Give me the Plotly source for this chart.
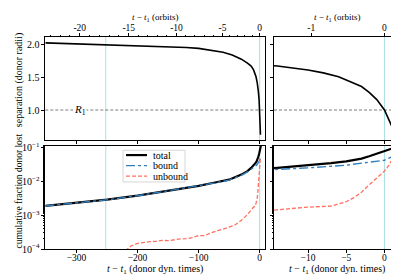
import plotly.graph_objects as go

# ---------------- data ----------------
sep_t = [-351, -300, -250, -200, -150, -120, -100, -80, -60, -45, -30, -20, -14, -10, -8, -6, -4, -3, -2, -1, 0, 0.5, 1.0, 1.3]
sep = [2.03, 2.015, 2.0, 1.99, 1.975, 1.96, 1.945, 1.92, 1.885, 1.845, 1.78, 1.72, 1.675, 1.615, 1.57, 1.51, 1.415, 1.36, 1.27, 1.16, 1.0, 0.88, 0.74, 0.62]

tot_t = [-351, -300, -250, -200, -150, -100, -75, -50, -30, -20, -14, -10, -7, -5, -3, -2, -1, 0, 1, 2, 2.3]
tot_v = [1.9e-3, 2.35e-3, 2.9e-3, 3.8e-3, 5.25e-3, 7.4e-3, 9.1e-3, 1.12e-2, 1.58e-2, 2.0e-2, 2.5e-2, 2.95e-2, 3.45e-2, 3.9e-2, 4.7e-2, 5.5e-2, 6.45e-2, 7.75e-2, 9.3e-2, 0.112, 0.12]

bnd_t = [-351, -300, -250, -200, -150, -100, -75, -50, -30, -20, -14, -10, -5, -2, 0, 1.2]
bnd_v = [1.88e-3, 2.32e-3, 2.86e-3, 3.75e-3, 5.2e-3, 7.3e-3, 8.9e-3, 1.09e-2, 1.5e-2, 1.9e-2, 2.3e-2, 2.5e-2, 3.0e-2, 3.6e-2, 4.2e-2, 5.6e-2]

unb_t = [-220, -210, -200, -190, -180, -170, -160, -150, -140, -130, -120, -110, -100, -90, -80, -70, -60, -50, -40, -30, -20, -14, -10, -7, -5, -4, -3, -2, -1, 0, 0.5, 1.2]
unb_v = [8.9e-5, 1.26e-4, 1.48e-4, 1.58e-4, 1.66e-4, 1.7e-4, 1.82e-4, 1.78e-4, 1.9e-4, 2.0e-4, 2.04e-4, 2.19e-4, 2.51e-4, 2.51e-4, 3.02e-4, 3.39e-4, 3.8e-4, 4.47e-4, 5.25e-4, 7.08e-4, 1.05e-3, 1.45e-3, 1.74e-3, 1.86e-3, 2.51e-3, 3.3e-3, 4.8e-3, 7.9e-3, 1.26e-2, 2.0e-2, 2.8e-2, 5.2e-2]

series_names = ["total", "bound", "unbound"]

# orbit (top axis) ticks, positions expressed in donor dynamical times
orb_left_pos = [-294.6, -214.4, -136.2, -61.0, 0.0]
orb_left_lab = ["-20", "-15", "-10", "-5", "0"]
orb_right_pos = [-9.57, 0.0]
orb_right_lab = ["-1", "0"]

bot_left_ticks = [-300, -200, -100, 0]
bot_right_ticks = [-10, -5, 0]
sep_ticks = [1.0, 1.5, 2.0]
sep_labels = ["1.0", "1.5", "2.0"]
log_ticks = [1e-4, 1e-3, 1e-2, 1e-1]
log_labels = ["10<sup>−4</sup>", "10<sup>−3</sup>", "10<sup>−2</sup>", "10<sup>−1</sup>"]
vlines_left = [-252, 0]
vlines_right = [0]
R1 = 1.0


def minor_orbits(pos):
    # styling only: tick marks at whole orbits between the labelled ones
    out = []
    for a, b in zip(pos[:-1], pos[1:]):
        for k in range(1, 5):
            out.append(a + (b - a) * k / 5)
    step = (pos[1] - pos[0]) / 5
    x = pos[0] - step
    while x > -351:
        out.append(x)
        x -= step
    return out


FONT = "Liberation Serif, Times New Roman, DejaVu Serif, serif"
BLUE = "#2f7fc1"
RED = "#ff7060"
CYAN = "#a9dfe3"
W, H = 399, 275

styles = {
    "total": dict(color="black", width=2.2),
    "bound": dict(color=BLUE, width=1.4, dash="dashdot"),
    "unbound": dict(color=RED, width=1.3, dash="4px,2px"),
}

fig = go.Figure()

for xa, ya in [("x", "y"), ("x2", "y2")]:
    for nm, tt, vv in zip(series_names, [tot_t, bnd_t, unb_t], [tot_v, bnd_v, unb_v]):
        fig.add_trace(go.Scatter(x=tt, y=vv, xaxis=xa, yaxis=ya, mode="lines", name=nm,
                                 line=styles[nm], showlegend=False))

for xa, ya in [("x3", "y3"), ("x4", "y4")]:
    fig.add_trace(go.Scatter(x=sep_t, y=sep, xaxis=xa, yaxis=ya, mode="lines",
                             line=dict(color="black", width=1.6), showlegend=False))
# invisible traces so the top (orbit) axes are drawn
fig.add_trace(go.Scatter(x=[orb_left_pos[0]], y=[sep[0]], xaxis="x5", yaxis="y3", mode="markers",
                         marker=dict(opacity=0), showlegend=False, hoverinfo="skip"))
fig.add_trace(go.Scatter(x=[orb_right_pos[0]], y=[sep[0]], xaxis="x6", yaxis="y4", mode="markers",
                         marker=dict(opacity=0), showlegend=False, hoverinfo="skip"))

shapes = []
for v in vlines_left:
    for yr in ["y domain", "y3 domain"]:
        shapes.append(dict(type="line", xref="x", yref=yr, x0=v, x1=v, y0=0, y1=1,
                           line=dict(color=CYAN, width=1), layer="below"))
for v in vlines_right:
    for yr in ["y2 domain", "y4 domain"]:
        shapes.append(dict(type="line", xref="x2", yref=yr, x0=v, x1=v, y0=0, y1=1,
                           line=dict(color=CYAN, width=1), layer="below"))
for xr, yr in [("x3 domain", "y3"), ("x4 domain", "y4")]:
    shapes.append(dict(type="line", xref=xr, yref=yr, x0=0, x1=1, y0=R1, y1=R1,
                       line=dict(color="#444", width=0.7, dash="3px,2px"), layer="below"))

# legend box (matplotlib-like, compact)
LX0, LX1, LY0, LY1 = 115, 177, 143, 176
shapes.append(dict(type="rect", xref="paper", yref="paper", x0=LX0 / W, x1=LX1 / W,
                   y0=1 - LY1 / H, y1=1 - LY0 / H, line=dict(color="#cccccc", width=0.8),
                   fillcolor="rgba(255,255,255,0.85)", layer="above"))
annotations = []
for i, nm in enumerate(series_names):
    yy = 1 - (148 + 11 * i) / H
    shapes.append(dict(type="line", xref="paper", yref="paper", x0=118 / W, x1=139 / W,
                       y0=yy, y1=yy, line=styles[nm], layer="above"))
    annotations.append(dict(x=143 / W, y=yy, xref="paper", yref="paper", text=nm, showarrow=False,
                            xanchor="left", yanchor="middle", font=dict(family=FONT, size=10, color="black")))

XL = [37.3 / W, 257.3 / W]
XR = [266 / W, 392.5 / W]
YB = [1 - 246 / H, 1 - 138.3 / H]
YT = [1 - 132.3 / H, 1 - 25 / H]

title_x = "<i>t</i> − <i>t</i><sub>1</sub> (donor dyn. times)"
title_o = "<i>t</i> − <i>t</i><sub>1</sub> (orbits)"
for xc in [(XL[0] + XL[1]) / 2, (XR[0] + XR[1]) / 2]:
    annotations.append(dict(x=xc, y=1 - 267 / H, xref="paper", yref="paper", text=title_x,
                            showarrow=False, xanchor="center", yanchor="middle",
                            font=dict(family=FONT, size=10, color="black")))
    annotations.append(dict(x=xc, y=1 - 5 / H, xref="paper", yref="paper", text=title_o,
                            showarrow=False, xanchor="center", yanchor="middle",
                            font=dict(family=FONT, size=9, color="black")))
annotations.append(dict(x=11 / W, y=1 - 70 / H, xref="paper", yref="paper",
                        text="separation (donor radii)", textangle=-90, showarrow=False,
                        xanchor="center", yanchor="middle", font=dict(family=FONT, size=10, color="black")))
annotations.append(dict(x=11 / W, y=1 - 186 / H, xref="paper", yref="paper",
                        text="cumulative fraction donor lost", textangle=-90, showarrow=False,
                        xanchor="center", yanchor="middle", font=dict(family=FONT, size=9.5, color="black")))
annotations.append(dict(x=orb_left_pos[0], y=R1, xref="x3", yref="y3", text="<i>R</i><sub>1</sub>",
                        showarrow=False, bgcolor="white", font=dict(family=FONT, size=11, color="black"),
                        xanchor="center", yanchor="middle", borderpad=0))

axis_common = dict(showline=True, linecolor="black", linewidth=0.8, mirror=True, ticks="outside",
                   ticklen=3, tickwidth=0.8, tickcolor="black", showgrid=False, zeroline=False,
                   tickfont=dict(family=FONT, size=10, color="black"))
small_tick = dict(family=FONT, size=9.5, color="black")
minor_log = dict(ticks="outside", ticklen=1.5, tickcolor="black", tickwidth=0.6)

fig.update_layout(
    width=W, height=H, margin=dict(l=0, r=0, t=0, b=0),
    paper_bgcolor="white", plot_bgcolor="white", showlegend=False,
    font=dict(family=FONT, size=10, color="black"),
    shapes=shapes, annotations=annotations,
    xaxis=dict(domain=XL, anchor="y", range=[-351, 9.2], tickvals=bot_left_ticks,
               ticklabelstandoff=-3, **{**axis_common, "tickfont": small_tick}),
    yaxis=dict(domain=YB, anchor="x", type="log", range=[-4, -0.95], tickvals=log_ticks, ticktext=log_labels,
               minor=minor_log, **axis_common),
    xaxis2=dict(domain=XR, anchor="y2", range=[-14.45, 2.1], tickvals=bot_right_ticks,
                ticklabelstandoff=-3, **{**axis_common, "tickfont": small_tick}),
    yaxis2=dict(domain=YB, anchor="x2", type="log", range=[-4, -0.95], tickvals=log_ticks,
                showticklabels=False, minor=minor_log, **axis_common),
    xaxis3=dict(domain=XL, anchor="y3", range=[-351, 9.2], tickvals=bot_left_ticks, showticklabels=False,
                **axis_common),
    yaxis3=dict(domain=YT, anchor="x3", range=[0.54, 2.12], tickvals=sep_ticks, ticktext=sep_labels,
                **axis_common),
    xaxis4=dict(domain=XR, anchor="y4", range=[-14.45, 2.1], tickvals=bot_right_ticks, showticklabels=False,
                **axis_common),
    yaxis4=dict(domain=YT, anchor="x4", range=[0.54, 2.12], tickvals=sep_ticks, showticklabels=False,
                **axis_common),
    xaxis5=dict(overlaying="x3", anchor="y3", side="top", range=[-351, 9.2], tickvals=orb_left_pos,
                ticktext=orb_left_lab, ticklabelstandoff=-2,
                minor=dict(tickvals=minor_orbits(orb_left_pos), ticks="outside", ticklen=1.5,
                           tickcolor="black", tickwidth=0.6),
                **{**axis_common, "tickfont": small_tick}),
    xaxis6=dict(overlaying="x4", anchor="y4", side="top", range=[-14.45, 2.1], tickvals=orb_right_pos,
                ticktext=orb_right_lab, ticklabelstandoff=-2, **{**axis_common, "tickfont": small_tick}),
)

fig.write_html("out.html")
